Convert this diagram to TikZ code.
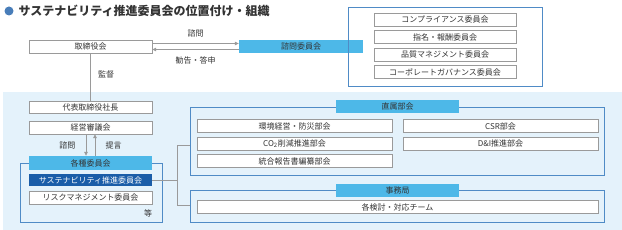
\documentclass[tikz,border=0pt]{standalone}
\usepackage{fontspec}
\setmainfont{Noto Sans CJK JP}
\usepackage{xcolor}
\usetikzlibrary{arrows.meta}
\definecolor{sfondo}{HTML}{E4F2FB}
\definecolor{azzurro}{HTML}{4DB8E8}
\definecolor{blu}{HTML}{1A5DA8}
\definecolor{bordo}{HTML}{4F8BC6}
\definecolor{grigio}{HTML}{9A9A9A}
\definecolor{testo}{HTML}{333333}
\tikzset{
  scatola/.style={draw=grigio, fill=white, inner sep=0pt, minimum height=13pt, text=testo, font=\fontsize{8}{9}\selectfont},
  testata/.style={scatola, draw=none, fill=azzurro},
  gruppo/.style={draw=bordo, line width=0.8pt},
  freccia/.style={draw=grigio, line width=0.7pt, -{Triangle[length=4pt,width=3.5pt]}},
  linea/.style={draw=grigio, line width=0.7pt},
  etichetta/.style={text=testo, font=\fontsize{8}{9}\selectfont}
}
\begin{document}
\begin{tikzpicture}[x=1pt,y=-1pt]
\useasboundingbox (0,0) rectangle (622,230);
% Titolo
\fill[blu!80] (9,11) circle (4.5pt);
\node[anchor=west, text=testo, font=\fontsize{12}{13}\selectfont\bfseries] (titolo) at (15,11) {サステナビリティ推進委員会の位置付け・組織};
% Sfondo
\fill[sfondo] (3,92) rectangle (622,230);
% Consiglio e comitato consultivo
\node[scatola, minimum width=123pt] (cda) at (90.5,46.5) {取締役会};
\node[testata, minimum width=124pt] (consult) at (301,46.5) {諮問委員会};
\draw[freccia] ([yshift=3pt]cda.east) -- ([yshift=3pt]consult.west) node[midway, above=3pt, etichetta] {諮問};
\draw[freccia] ([yshift=-3pt]consult.west) -- ([yshift=-3pt]cda.east) node[midway, below=3pt, etichetta] {勧告・答申};
% Comitati consultivi
\draw[gruppo] (348,7) rectangle (542,86);
\node[scatola, minimum width=142pt] (comp) at (445,19.5) {コンプライアンス委員会};
\node[scatola, minimum width=142pt] (nomina) at (445,37) {指名・報酬委員会};
\node[scatola, minimum width=142pt] (qualita) at (445,54.5) {品質マネジメント委員会};
\node[scatola, minimum width=142pt] (govern) at (445,72) {コーポレートガバナンス委員会};
% Presidente e consiglio di gestione
\node[scatola, minimum width=123pt, minimum height=12.5pt] (presid) at (90.5,107) {代表取締役社長};
\node[scatola, minimum width=123pt] (gestione) at (90.5,127.5) {経営審議会};
\draw[linea] (cda.south) -- (presid.north) node[pos=0.45, right=4pt, etichetta] {監督};
% Comitati vari
\draw[gruppo] (20,163) rectangle (162,222);
\node[testata, minimum width=123pt, minimum height=14pt] (vari) at (90.5,163) {各種委員会};
\node[scatola, draw=none, fill=blu, text=white, minimum width=123pt, minimum height=12.5pt] (sost) at (90.5,180) {サステナビリティ推進委員会};
\node[scatola, minimum width=123pt] (rischio) at (90.5,197.5) {リスクマネジメント委員会};
\node[etichetta] (ecc) at (148,213) {等};
\draw[freccia] ([xshift=-4.5pt]gestione.south) -- ([xshift=-4.5pt]vari.north) node[midway, left=7pt, etichetta] {諮問};
\draw[freccia] ([xshift=4.5pt]vari.north) -- ([xshift=4.5pt]gestione.south) node[midway, right=7pt, etichetta] {提言};
% Sottocomitati diretti
\draw[gruppo] (190,107) rectangle (604,175);
\node[testata, minimum width=123pt] (diretti) at (397.5,106.5) {直属部会};
\node[scatola, minimum width=195pt] (ambiente) at (294.5,126) {環境経営・防災部会};
\node[scatola, minimum width=195pt] (co2) at (294.5,143.5) {CO\textsubscript{2}削減推進部会};
\node[scatola, minimum width=195pt] (report) at (294.5,161) {統合報告書編纂部会};
\node[scatola, minimum width=195pt] (csr) at (500.5,126) {CSR部会};
\node[scatola, minimum width=195pt] (di) at (500.5,143.5) {D\&I推進部会};
% Segreteria
\draw[gruppo] (190,190) rectangle (604,222);
\node[testata, minimum width=123pt] (segret) at (397.5,190) {事務局};
\node[scatola, minimum width=401pt] (squadre) at (397.5,207) {各検討・対応チーム};
% Collegamenti
\coordinate (nodo) at (177,180);
\coordinate (dirsx) at (190,145);
\coordinate (segsx) at (190,205);
\draw[linea] (sost.east) -- (nodo);
\draw[linea] (dirsx) -- (dirsx -| nodo) -- (segsx -| nodo) -- (segsx);
\end{tikzpicture}
\end{document}
